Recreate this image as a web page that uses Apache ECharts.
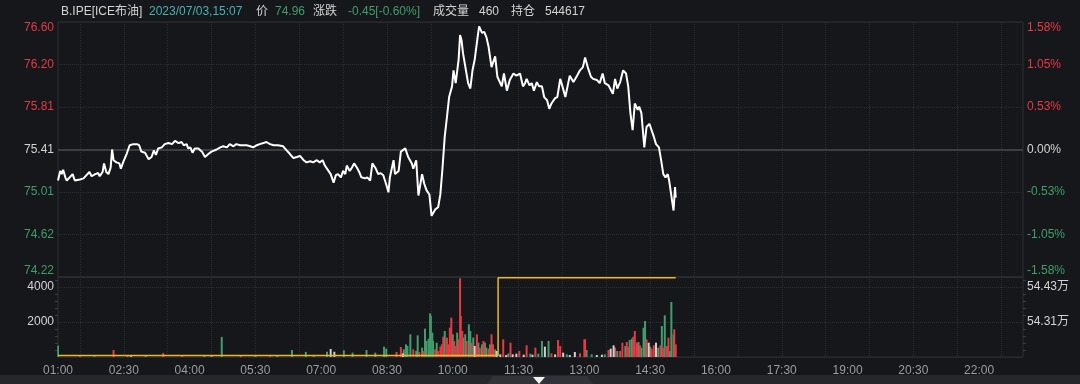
<!DOCTYPE html>
<html><head><meta charset="utf-8">
<script src="https://cdn.jsdelivr.net/npm/echarts@6/dist/echarts.min.js"></script>
<style>html,body{margin:0;padding:0;background:#16171b;}#c{width:1080px;height:384px;}</style>
</head><body><div id="c"></div>
<script>
// ---- data (minutes counted from 01:00) ----
const prevClose = 75.41;
const pctRange = 1.58;           // % range of the price axis
const sessionMinutes = 1320;     // 01:00 .. 23:00
const header = {
  name: 'B.IPE[ICE布油]', time: '2023/07/03,15:07', price: '74.96',
  change: '-0.45[-0.60%]', volume: '460', openInterest: '544617'
};
const priceTimes = [0,3,5,7,10,12,16,20,23,30,35,39,43,46,51,55,57,61,63,66,69,72,74,76,80,84,86,89,94,98,103,108,111,114,119,124,128,131,134,137,142,146,151,156,160,165,169,172,176,178,181,184,187,192,197,201,206,210,217,222,226,231,235,240,244,249,254,258,263,267,272,276,281,285,290,295,301,308,313,317,322,327,331,336,340,345,349,354,358,362,365,370,373,377,380,383,387,390,393,395,399,402,405,409,412,415,420,423,427,430,434,438,441,445,450,452,454,459,461,466,469,475,479,484,486,490,493,498,501,504,508,511,516,520,523,526,529,532,535,539,541,544,548,550,552,554,558,561,564,567,570,574,576,580,583,586,589,593,598,601,605,607,610,614,618,623,627,632,636,639,641,645,648,651,655,658,662,665,669,672,675,680,683,687,690,694,697,700,705,710,714,718,721,725,729,732,737,741,745,748,753,759,762,765,769,773,777,780,783,786,789,793,795,798,802,805,809,812,815,818,822,825,828,831,834,836,840,842,844,845];
const priceValues = [75.12,75.21,75.18,75.22,75.15,75.12,75.15,75.18,75.12,75.13,75.14,75.17,75.20,75.16,75.18,75.19,75.16,75.20,75.28,75.20,75.18,75.24,75.41,75.31,75.29,75.28,75.23,75.29,75.37,75.45,75.46,75.46,75.45,75.39,75.38,75.32,75.34,75.40,75.36,75.42,75.43,75.46,75.47,75.46,75.49,75.47,75.48,75.45,75.46,75.42,75.43,75.38,75.42,75.42,75.39,75.34,75.37,75.39,75.41,75.43,75.44,75.43,75.46,75.44,75.46,75.45,75.45,75.45,75.44,75.43,75.45,75.46,75.47,75.48,75.46,75.45,75.45,75.44,75.40,75.37,75.33,75.34,75.35,75.31,75.29,75.30,75.29,75.31,75.29,75.31,75.26,75.21,75.18,75.10,75.17,75.18,75.15,75.21,75.18,75.26,75.21,75.24,75.28,75.24,75.20,75.15,75.14,75.15,75.12,75.28,75.24,75.18,75.19,75.17,75.06,75.01,75.15,75.31,75.18,75.21,75.39,75.42,75.34,75.28,75.23,75.31,74.98,75.18,75.09,75.03,74.99,74.79,74.85,74.87,74.99,75.24,75.53,75.71,75.90,76.00,76.15,76.03,76.25,76.48,76.43,76.31,76.15,76.03,75.98,76.15,76.25,76.46,76.56,76.50,76.51,76.46,76.37,76.18,76.28,76.09,76.03,76.00,76.12,75.96,76.06,76.12,76.10,76.12,76.00,76.03,76.07,76.01,76.03,75.96,76.04,76.00,76.00,75.90,75.87,75.79,75.84,75.89,75.90,76.07,76.00,75.90,76.00,76.10,76.04,76.10,76.15,76.18,76.27,76.17,76.09,76.07,76.06,76.03,76.12,76.03,76.01,75.93,76.07,75.98,76.04,76.15,76.12,76.00,75.75,75.59,75.84,75.78,75.81,75.75,75.43,75.62,75.65,75.59,75.53,75.46,75.43,75.31,75.18,75.15,75.18,75.12,74.93,74.84,75.06,74.96];
// volume bars [minute, volume]
const volUp = [[30,60],[76,400],[95,80],[144,230],[170,90],[250,60],[290,70],[463,286],[469,571],[486,438],[494,286],[500,343],[516,438],[520,343],[523,591],[525,724],[527,1162],[532,1105],[534,724],[536,1676],[538,2248],[542,914],[544,629],[548,1010],[550,4500],[551,2343],[553,1486],[559,914],[566,819],[573,1295],[577,533],[582,914],[589,476],[593,1295],[595,724],[609,1010],[619,819],[631,343],[641,667],[653,533],[675,210],[684,971],[687,629],[714,210],[720,1010],[721,1010],[753,400],[762,533],[769,343],[772,819],[778,857],[780,591],[787,1162],[789,1486],[792,819],[796,667],[805,1010],[812,476],[815,667],[824,667],[828,533],[833,629],[835,1105],[843,1581],[845,724]];
const volDown = [[0,650],[50,50],[120,60],[200,70],[224,1150],[270,80],[300,60],[320,400],[339,290],[350,120],[368,300],[391,380],[403,250],[422,400],[434,250],[446,590],[449,476],[473,438],[476,724],[478,629],[482,1295],[490,343],[492,1238],[498,533],[502,1619],[504,914],[507,1048],[509,2496],[510,2343],[512,1391],[513,914],[518,819],[529,1486],[540,1295],[546,1391],[554,1105],[557,1295],[562,1867],[564,1486],[568,1105],[575,819],[580,724],[584,819],[586,533],[591,724],[598,438],[616,210],[646,190],[657,190],[662,914],[671,914],[696,152],[723,400],[730,152],[748,152],[765,343],[776,629],[782,971],[785,1048],[794,857],[798,533],[801,1676],[803,2058],[810,591],[821,533],[826,1772],[830,2381],[837,343],[839,3143],[842,1295]];
const volFlat = [[100,50],[210,40],[373,457],[378,300],[472,210],[570,629],[600,343],[605,152],[613,114],[622,152],[627,190],[637,133],[649,133],[666,591],[680,152],[691,248],[700,114],[707,286],[737,114],[744,133],[756,476],[760,667],[808,819],[818,819]];
// open interest: [minute, contracts] (step line)
const openInterest = [[0,541950],[602,544617],[845,544617]];

// ---- styling ----
const RED = '#e63a43', GREEN = '#3f9e6b', NEUTRAL = '#d4d4d4', AXIS = '#9c9c9c';
const FONT = '"Liberation Sans", Arial, "Noto Sans CJK SC", sans-serif';
const GRID_LINE = '#2b2d32';
const slots = Array.from({length: sessionMinutes + 1}, (_, i) => i);
const fmtTime = m => { const h = 1 + Math.floor(m / 60), mm = m % 60; return String(h).padStart(2,'0') + ':' + String(mm).padStart(2,'0'); };
const signColor = (v, ref) => { const d = Number(v) - ref; return Math.abs(d) < 1e-6 ? NEUTRAL : (d > 0 ? RED : GREEN); };

const priceMin = prevClose * (1 - pctRange / 100), priceMax = prevClose * (1 + pctRange / 100);
const gridSplit = { show: true, interval: (i) => i % 60 === 30, lineStyle: { color: GRID_LINE, type: 'dotted', width: 1 } };

const chart = echarts.init(document.getElementById('c'), null, { renderer: 'canvas' });
chart.setOption({
  animation: false,
  backgroundColor: '#16171b',
  textStyle: { fontFamily: FONT },
  grid: [
    { left: 58, right: 57, top: 22, height: 255, show: true, borderColor: '#2e3035', borderWidth: 1 },
    { left: 58, right: 57, top: 277, height: 80, show: true, borderColor: '#2e3035', borderWidth: 1 }
  ],
  xAxis: [
    { type: 'value', gridIndex: 0, min: 0, max: sessionMinutes, show: false, splitLine: { show: false } },
    { type: 'value', gridIndex: 1, min: 0, max: sessionMinutes, interval: 90,
      axisLine: { show: false }, axisTick: { show: false }, splitLine: { show: false },
      axisLabel: { color: AXIS, fontSize: 12, fontFamily: FONT, margin: 8, showMaxLabel: false, formatter: fmtTime } },
    { type: 'category', gridIndex: 0, data: slots, boundaryGap: false, axisLine: { show: false }, axisTick: { show: false }, axisLabel: { show: false }, splitLine: gridSplit },
    { type: 'category', gridIndex: 1, data: slots, boundaryGap: false, axisLine: { show: false }, axisTick: { show: false }, axisLabel: { show: false }, splitLine: gridSplit }
  ],
  yAxis: [
    { type: 'value', gridIndex: 0, min: priceMin, max: priceMax, interval: (priceMax - priceMin) / 6,
      axisLine: { show: false }, axisTick: { show: false },
      splitLine: { show: true, lineStyle: { color: GRID_LINE, type: 'dotted' } },
      axisLabel: { fontSize: 12, fontFamily: FONT, margin: 4, formatter: v => Number(v).toFixed(2),
        color: v => signColor(Number(Number(v).toFixed(2)), prevClose),
        verticalAlignMaxLabel: 'top', verticalAlignMinLabel: 'bottom' } },
    { type: 'value', gridIndex: 0, position: 'right', min: -pctRange, max: pctRange, interval: pctRange / 3,
      axisLine: { show: false }, axisTick: { show: false }, splitLine: { show: false },
      axisLabel: { fontSize: 12, fontFamily: FONT, margin: 4, formatter: v => Number(v).toFixed(2) + '%',
        color: v => signColor(Number(Number(v).toFixed(2)), 0),
        verticalAlignMaxLabel: 'top', verticalAlignMinLabel: 'bottom' } },
    { type: 'value', gridIndex: 1, min: 0, max: 4571, interval: 2000,
      axisLine: { show: false }, axisTick: { show: false },
      minorTick: { show: true, splitNumber: 5, length: 3, lineStyle: { color: '#3a3c42' } },
      splitLine: { show: true, lineStyle: { color: GRID_LINE, type: 'dotted' } },
      axisLabel: { color: NEUTRAL, fontSize: 12, fontFamily: FONT, margin: 4, showMinLabel: false, showMaxLabel: false,
        formatter: v => String(Math.round(v)) } },
    { type: 'value', gridIndex: 1, position: 'right', min: 541900, max: 544643, interval: 1200,
      axisLine: { show: false }, axisTick: { show: false }, splitLine: { show: false },
      minorTick: { show: true, splitNumber: 5, length: 3, lineStyle: { color: '#3a3c42' } },
      axisLabel: { color: NEUTRAL, fontSize: 12, fontFamily: FONT, margin: 4, showMinLabel: false, showMaxLabel: false,
        formatter: v => (v / 10000).toFixed(2) + '万' } }
  ],
  series: [
    { type: 'bar', name: 'volDown', xAxisIndex: 1, yAxisIndex: 2, data: volDown, barWidth: 2, barGap: '-100%', itemStyle: { color: GREEN }, silent: true },
    { type: 'bar', name: 'volUp', xAxisIndex: 1, yAxisIndex: 2, data: volUp, barWidth: 2, barGap: '-100%', itemStyle: { color: RED }, silent: true },
    { type: 'bar', name: 'volFlat', xAxisIndex: 1, yAxisIndex: 2, data: volFlat, barWidth: 2, barGap: '-100%', itemStyle: { color: '#cfcfcf' }, silent: true },
    { type: 'line', name: 'openInterest', xAxisIndex: 1, yAxisIndex: 3, data: openInterest, step: 'end', showSymbol: false, z: 5,
      lineStyle: { color: '#f0b429', width: 1.5 }, silent: true },
    { type: 'line', name: 'price', xAxisIndex: 0, yAxisIndex: 0, data: priceTimes.map((t, i) => [t, priceValues[i]]),
      showSymbol: false, z: 5, lineStyle: { color: '#ffffff', width: 2 }, silent: true,
      markLine: { silent: true, symbol: 'none', label: { show: false }, lineStyle: { color: '#3c3e44', type: 'solid', width: 2 },
        data: [{ yAxis: prevClose }] } }
  ],
  graphic: [
    { type: 'text', x: 61, y: 12, style: { text: header.name, fill: NEUTRAL, font: '12px ' + FONT, verticalAlign: 'middle' } },
    { type: 'text', x: 149, y: 12, style: { text: header.time, fill: '#45b3b3', font: '12px ' + FONT, verticalAlign: 'middle' } },
    { type: 'text', x: 256, y: 12, style: { text: '价', fill: NEUTRAL, font: '12px ' + FONT, verticalAlign: 'middle' } },
    { type: 'text', x: 275, y: 12, style: { text: header.price, fill: GREEN, font: '12px ' + FONT, verticalAlign: 'middle' } },
    { type: 'text', x: 313, y: 12, style: { text: '涨跌', fill: NEUTRAL, font: '12px ' + FONT, verticalAlign: 'middle' } },
    { type: 'text', x: 348, y: 12, style: { text: header.change, fill: GREEN, font: '12px ' + FONT, verticalAlign: 'middle' } },
    { type: 'text', x: 433, y: 12, style: { text: '成交量', fill: NEUTRAL, font: '12px ' + FONT, verticalAlign: 'middle' } },
    { type: 'text', x: 479, y: 12, style: { text: header.volume, fill: NEUTRAL, font: '12px ' + FONT, verticalAlign: 'middle' } },
    { type: 'text', x: 511, y: 12, style: { text: '持仓', fill: NEUTRAL, font: '12px ' + FONT, verticalAlign: 'middle' } },
    { type: 'text', x: 545, y: 12, style: { text: header.openInterest, fill: NEUTRAL, font: '12px ' + FONT, verticalAlign: 'middle' } },
    { type: 'rect', shape: { x: 0, y: 375, width: 1080, height: 9 }, style: { fill: '#26272b' } },
    { type: 'polygon', shape: { points: [[487,384],[493,376],[587,376],[593,384]] }, style: { fill: '#323338' } },
    { type: 'polygon', shape: { points: [[533,377],[545,377],[539,384]] }, style: { fill: '#f2f2f2' } }
  ]
});
</script></body></html>
